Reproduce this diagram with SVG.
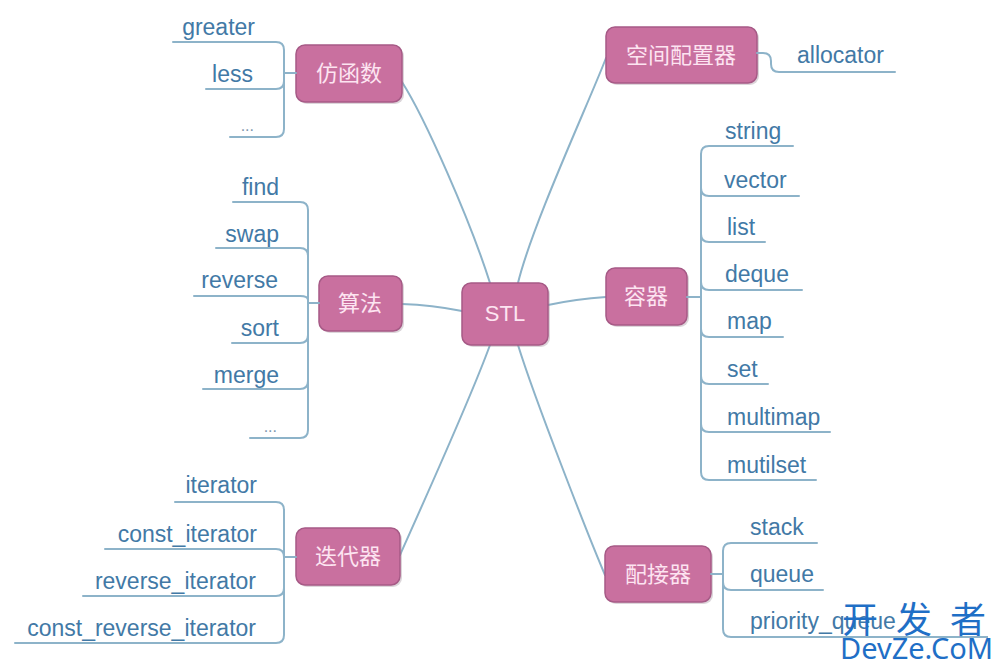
<svg xmlns="http://www.w3.org/2000/svg" width="999" height="672" viewBox="0 0 999 672">
<defs>
<style>
.box{fill:#c9709f;stroke:#a65a86;stroke-width:1.5}
.sh{fill:#9a8a94;opacity:0.35}
.bt{font-family:"Noto Sans CJK SC","Liberation Sans",sans-serif;font-size:22px;fill:#fde4f1;text-anchor:middle}
.lt{font-family:"Liberation Sans",Arial,sans-serif;font-size:23px;fill:#4279a6}
.ln{fill:none;stroke:#8db3c9;stroke-width:2;stroke-linecap:round}
.end{text-anchor:end}
</style>
</defs>
<rect width="999" height="672" fill="#ffffff"/>
<g id="connectors" class="ln">
<path d="M402,82 C425,118 470,220 490,283"/>
<path d="M606,58 C590,100 532,225 518,283"/>
<path d="M402,304 Q432,305 462,311"/>
<path d="M548,305 Q576,299 606,297"/>
<path d="M400,555 C420,510 470,400 490,345"/>
<path d="M605,575 C590,540 535,400 518,345"/>
</g>
<g id="stl">
<rect class="sh" x="464" y="285" width="86" height="62" rx="9"/>
<rect class="box" x="462" y="283" width="86" height="62" rx="9"/>
<text class="bt" x="505" y="321" style="font-family:'Liberation Sans',Arial,sans-serif">STL</text>
</g>
<g id="fanghanshu">
<rect class="sh" x="298" y="47" width="106" height="57" rx="9"/>
<rect class="box" x="296" y="45" width="106" height="57" rx="9"/>
<text class="bt" x="349" y="81">仿函数</text>
<path class="ln" d="M173,42 H276 Q284,42 284,50 V129 Q284,137 276,137 H230"/>
<path class="ln" d="M206,89 H276 Q284,89 284,81"/>
<path class="ln" d="M284,73 H296"/>
<text class="lt end" x="255" y="35">greater</text>
<text class="lt end" x="253" y="82">less</text>
<text class="lt end" x="254" y="131" style="font-size:16px;fill:#7f98ad">...</text>
</g>
<g id="suanfa">
<rect class="sh" x="321" y="278" width="83" height="55" rx="9"/>
<rect class="box" x="319" y="276" width="83" height="55" rx="9"/>
<text class="bt" x="360" y="311">算法</text>
<path class="ln" d="M233,202 H300 Q308,202 308,210 V430 Q308,438 300,438 H250"/>
<path class="ln" d="M216,248 H300 Q308,248 308,256"/>
<path class="ln" d="M194,296 H300 Q308,296 308,300"/>
<path class="ln" d="M232,343 H300 Q308,343 308,335"/>
<path class="ln" d="M203,389 H300 Q308,389 308,381"/>
<path class="ln" d="M308,303 H319"/>
<text class="lt end" x="279" y="195">find</text>
<text class="lt end" x="279" y="242">swap</text>
<text class="lt end" x="278" y="288">reverse</text>
<text class="lt end" x="279" y="336">sort</text>
<text class="lt end" x="279" y="383">merge</text>
<text class="lt end" x="277" y="432" style="font-size:16px;fill:#7f98ad">...</text>
</g>
<g id="diedaiqi">
<rect class="sh" x="298" y="530" width="104" height="57" rx="9"/>
<rect class="box" x="296" y="528" width="104" height="57" rx="9"/>
<text class="bt" x="348" y="564">迭代器</text>
<path class="ln" d="M175,502 H276 Q284,502 284,510 V635 Q284,643 276,643 H15"/>
<path class="ln" d="M105,549 H276 Q284,549 284,557"/>
<path class="ln" d="M83,596 H276 Q284,596 284,588"/>
<path class="ln" d="M284,557 H296"/>
<text class="lt end" x="257" y="493">iterator</text>
<text class="lt end" x="257" y="542">const_iterator</text>
<text class="lt end" x="256" y="589">reverse_iterator</text>
<text class="lt end" x="256" y="636">const_reverse_iterator</text>
</g>
<g id="kongjianpeizhiqi">
<rect class="sh" x="608" y="29" width="151" height="56" rx="9"/>
<rect class="box" x="606" y="27" width="151" height="56" rx="9"/>
<text class="bt" x="681" y="63">空间配置器</text>
<path class="ln" d="M757,53 H763 Q771,53 771,61 V64 Q771,72 779,72 H895"/>
<text class="lt" x="797" y="63">allocator</text>
</g>
<g id="rongqi">
<rect class="sh" x="608" y="270" width="81" height="57" rx="9"/>
<rect class="box" x="606" y="268" width="81" height="57" rx="9"/>
<text class="bt" x="646" y="304">容器</text>
<path class="ln" d="M687,297 H701"/>
<path class="ln" d="M793,146 H709 Q701,146 701,154 V472 Q701,480 709,480 H816"/>
<path class="ln" d="M701,188 Q701,196 709,196 H799"/>
<path class="ln" d="M701,234 Q701,242 709,242 H765"/>
<path class="ln" d="M701,282 Q701,290 709,290 H802"/>
<path class="ln" d="M701,329 Q701,337 709,337 H783"/>
<path class="ln" d="M701,376 Q701,384 709,384 H768"/>
<path class="ln" d="M701,424 Q701,432 709,432 H830"/>
<text class="lt" x="725" y="139">string</text>
<text class="lt" x="724" y="188">vector</text>
<text class="lt" x="727" y="235">list</text>
<text class="lt" x="725" y="282">deque</text>
<text class="lt" x="727" y="329">map</text>
<text class="lt" x="727" y="377">set</text>
<text class="lt" x="727" y="425">multimap</text>
<text class="lt" x="727" y="473">mutilset</text>
</g>
<g id="peijieqi">
<rect class="sh" x="607" y="548" width="106" height="56" rx="9"/>
<rect class="box" x="605" y="546" width="106" height="56" rx="9"/>
<text class="bt" x="658" y="582">配接器</text>
<path class="ln" d="M711,574 H723"/>
<path class="ln" d="M817,543 H731 Q723,543 723,551 V629 Q723,637 731,637 H905"/>
<path class="ln" d="M723,582 Q723,590 731,590 H823"/>
<text class="lt" x="750" y="535">stack</text>
<text class="lt" x="750" y="582">queue</text>
<text class="lt" x="750" y="629">priority_queue</text>
</g>
<g id="watermark">
<line x1="840" y1="637" x2="988" y2="637" stroke="#8db3c9" stroke-width="2"/>
<text x="842 896 950" y="633" style="font-family:'Noto Sans CJK SC',sans-serif;font-size:36px;fill:#1f6fc6">开发者</text>
<text x="840" y="659" style="font-family:'Noto Sans',sans-serif;font-size:29px;fill:#1f6fc6">DevZe.CoM</text>
</g>
</svg>
